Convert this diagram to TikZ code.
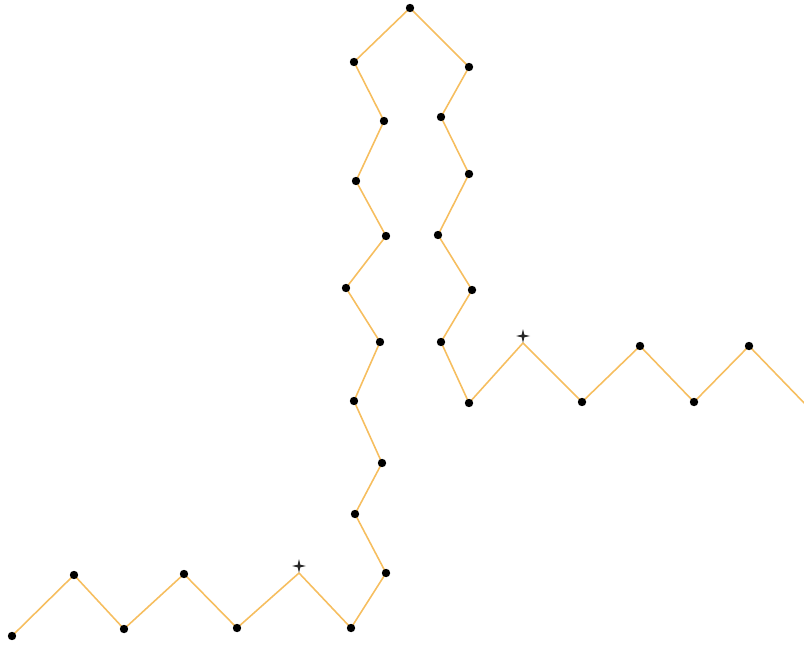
\documentclass[tikz,border=0pt]{standalone}
\usetikzlibrary{calc}
\definecolor{chainorange}{RGB}{246,190,95}

\tikzset{
  chain/.style={draw=chainorange,line width=0.9pt,line join=round},
  bead/.style={fill=black},
  sparkle/.style={fill=black!85}
}

\begin{document}
\begin{tikzpicture}[x=0.02cm,y=-0.02cm]
  \useasboundingbox (0,0) rectangle (804,645);
  % vertices of the chain, left end to right end
  \foreach \n/\x/\y in {1/12/636, 2/74/575, 3/124/629, 4/184/574, 5/237/628,
      6/299/573, 7/351/628, 8/386/573, 9/355/514, 10/382/463, 11/354/401,
      12/380/342, 13/346/288, 14/386/236, 15/356/181, 16/384/121, 17/354/62,
      18/410/8, 19/469/67, 20/441/117, 21/469/174, 22/438/235, 23/472/290,
      24/441/342, 25/469/403, 26/523/343, 27/582/402, 28/640/346, 29/694/402,
      30/749/346, 31/808/407} {
    \coordinate (p\n) at (\x,\y);
  }
  % the chain itself
  \draw[chain] (p1) \foreach \n in {2,...,31} { -- (p\n) };
  % beads on the vertices (none at the two marked corners)
  \foreach \n in {1,2,3,4,5,7,8,9,10,11,12,13,14,15,16,17,18,19,20,21,22,23,24,25,27,28,29,30} {
    \fill[bead] (p\n) circle (4.2);
  }
  % sparkle marks above the two corners
  \foreach \c in {p6,p26} {
    \fill[sparkle] ($(\c)+(0,-7)$) +(0,-7) -- +(1.3,-1.3) -- +(7,0) -- +(1.3,1.3)
      -- +(0,7) -- +(-1.3,1.3) -- +(-7,0) -- +(-1.3,-1.3) -- cycle;
  }
\end{tikzpicture}
\end{document}
